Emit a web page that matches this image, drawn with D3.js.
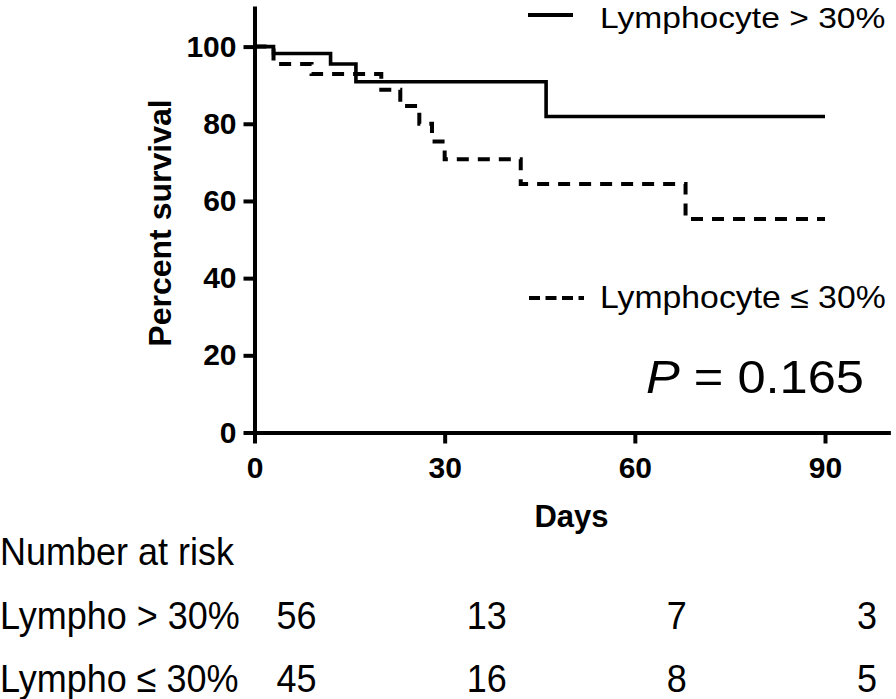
<!DOCTYPE html>
<html>
<head>
<meta charset="utf-8">
<script src="https://cdn.jsdelivr.net/npm/d3@7/dist/d3.min.js"></script>
<style>
  html, body { margin: 0; padding: 0; background: #fff; }
  svg { display: block; }
  text { font-family: "Liberation Sans", Arial, Helvetica, sans-serif; fill: #000; }
</style>
</head>
<body>
<svg id="chart" width="896" height="699"></svg>
<script>
// ---- data ----
const highTimes = [0, 3, 12, 16, 46, 90];
const highSurv  = [100, 98.2, 95.5, 90.9, 81.9, 81.9];
const lowTimes  = [0, 3, 9, 20, 23, 26, 28, 30, 42, 68, 90];
const lowSurv   = [100, 95.5, 92.9, 88.8, 84.6, 80.0, 75.4, 70.8, 64.4, 55.3, 55.3];
const seriesLabels = ["Lymphocyte > 30%", "Lymphocyte \u2264 30%"];
const xTicks = [0, 30, 60, 90];
const yTicks = [0, 20, 40, 60, 80, 100];
const riskDays = [0, 30, 60, 90];
const riskHigh = [56, 13, 7, 3];
const riskLow  = [45, 16, 8, 5];
const riskRowLabels = ["Lympho > 30%", "Lympho \u2264 30%"];
const pText = "0.165";

// ---- layout ----
const svg = d3.select("#chart");
const x = d3.scaleLinear().domain([0, 100]).range([254.5, 888.4]);
const y = d3.scaleLinear().domain([0, 110]).range([432.5, 8]);

// axes
const yAxis = d3.axisLeft(y).tickValues(yTicks).tickSize(11).tickSizeOuter(0).tickPadding(7);
const xAxis = d3.axisBottom(x).tickValues(xTicks).tickSize(11).tickSizeOuter(0).tickPadding(13);

const gy = svg.append("g").attr("transform", `translate(${x(0)},0)`).call(yAxis);
const gx = svg.append("g").attr("transform", `translate(0,${y(0)})`).call(xAxis);
[gx, gy].forEach(g => {
  g.select(".domain").attr("stroke", "#000").attr("stroke-width", 4).attr("stroke-linecap", "square");
  g.selectAll(".tick line").attr("stroke", "#000").attr("stroke-width", 4);
  g.selectAll(".tick text").attr("font-size", 30).attr("font-weight", "bold")
    .attr("font-family", "'Liberation Sans', Arial, sans-serif").attr("fill", "#000");
});

// curves
const line = d3.line().x(d => x(d[0])).y(d => y(d[1])).curve(d3.curveStepAfter);
const highData = highTimes.map((t, i) => [t, highSurv[i]]);
const lowData = lowTimes.map((t, i) => [t, lowSurv[i]]);

svg.append("path").datum(lowData).attr("d", line)
  .attr("fill", "none").attr("stroke", "#000").attr("stroke-width", 4)
  .attr("stroke-dasharray", "12,9");
svg.append("path").datum(highData).attr("d", line)
  .attr("fill", "none").attr("stroke", "#000").attr("stroke-width", 3.6);

// axis titles
svg.append("text").attr("transform", "translate(171,223) rotate(-90)")
  .attr("text-anchor", "middle").attr("font-size", 32).attr("font-weight", "bold")
  .text("Percent survival");
svg.append("text").attr("x", (x(0) + x(100)) / 2).attr("y", 527)
  .attr("text-anchor", "middle").attr("font-size", 31).attr("font-weight", "bold")
  .text("Days");

// legend
svg.append("line").attr("x1", 528).attr("x2", 573).attr("y1", 15).attr("y2", 15)
  .attr("stroke", "#000").attr("stroke-width", 4);
svg.append("g").attr("transform", "translate(600,28) scale(1.12,1)")
  .append("text").attr("font-size", 30).text(seriesLabels[0]);
svg.append("line").attr("x1", 529).attr("x2", 584).attr("y1", 298).attr("y2", 298)
  .attr("stroke", "#000").attr("stroke-width", 4).attr("stroke-dasharray", "11,5.5");
svg.append("g").attr("transform", "translate(600,308) scale(1.09,1)")
  .append("text").attr("font-size", 31).text(seriesLabels[1]);

// P value
const pg = svg.append("g").attr("transform", "translate(646,393) scale(1.1,1)");
const pt = pg.append("text").attr("font-size", 46);
pt.append("tspan").attr("font-style", "italic").text("P");
pt.append("tspan").text(" = " + pText);

// risk table
const rowBase = [565, 629, 692];
const riskX = d => x(d) + 42;
svg.append("g").attr("transform", `translate(0,${rowBase[0]}) scale(1,1.1)`)
  .append("text").attr("font-size", 36).text("Number at risk");
[riskHigh, riskLow].forEach((row, r) => {
  const g = svg.append("g").attr("transform", `translate(0,${rowBase[r + 1]}) scale(1,1.1)`);
  g.append("text").attr("x", 0).attr("font-size", 36).text(riskRowLabels[r]);
  g.selectAll("text.n").data(row).enter().append("text").attr("class", "n")
    .attr("x", (d, i) => riskX(riskDays[i])).attr("text-anchor", "middle")
    .attr("font-size", 36).text(d => d);
});
</script>
</body>
</html>
